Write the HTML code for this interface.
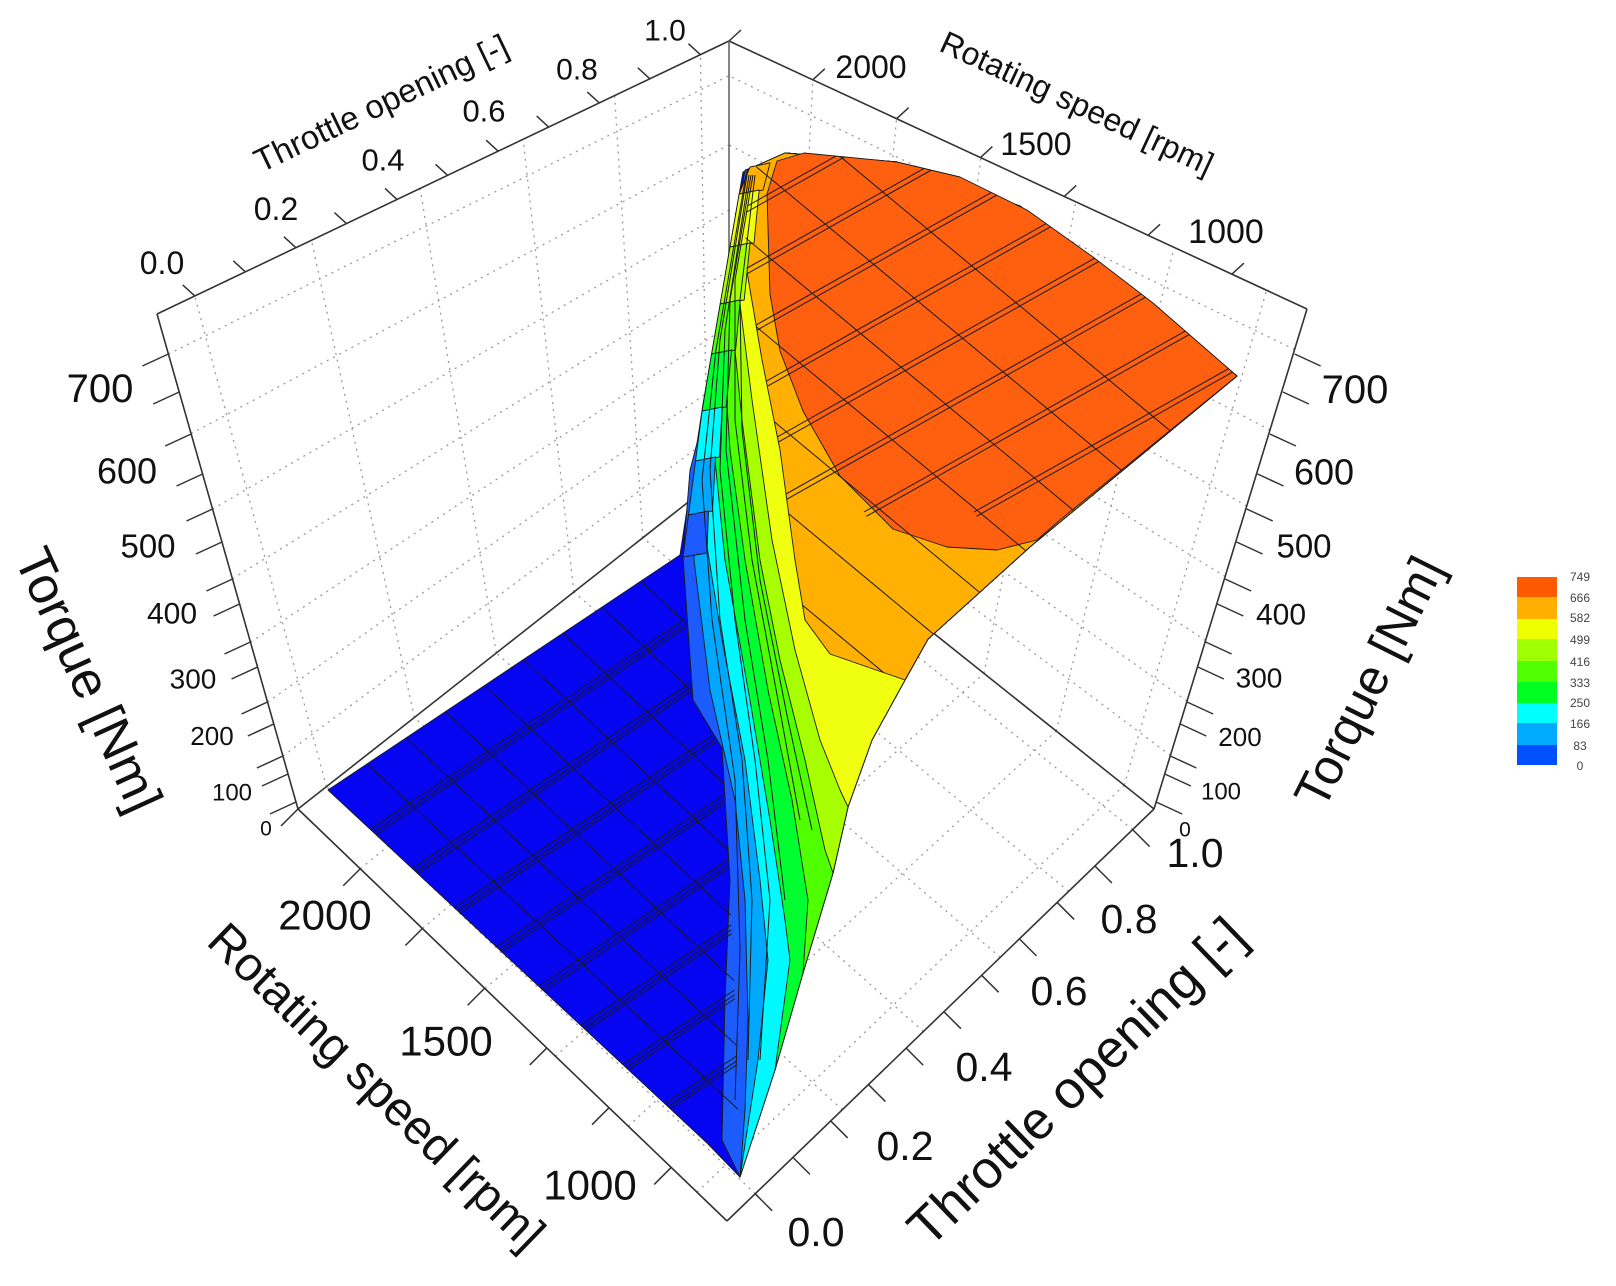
<!DOCTYPE html>
<html><head><meta charset="utf-8"><style>
html,body{margin:0;padding:0;background:#fff;width:1616px;height:1286px;overflow:hidden;}
svg{display:block;position:absolute;left:0;top:0;font-family:"Liberation Sans",sans-serif;}
</style></head><body>
<svg id="s" width="1616" height="1286" viewBox="0 0 1616 1286" xmlns="http://www.w3.org/2000/svg">
<defs>
<clipPath id="capclip">
<polygon id="capc" points=""/>
<polygon id="olc" points=""/>
</clipPath>
<clipPath id="blueclip">
<polygon points="328,790 680,555 692,700 722,748 730,900 735,1000 740,1177 707,1143"/>
</clipPath>
</defs>
<g id="grid" fill="none" stroke="#9a9a9a" stroke-width="1.3" stroke-dasharray="2 5"></g>
<g id="ticks" stroke="#333" stroke-width="1.5" fill="none"></g>
<g stroke="#333" stroke-width="1.6" fill="none">
<line x1="157" y1="314" x2="729" y2="41"/>
<line x1="729" y1="41" x2="1307" y2="309"/>
<line x1="729" y1="41" x2="729" y2="470" stroke="#666"/>
<line x1="157" y1="314" x2="298" y2="809"/>
<line x1="1307" y1="309" x2="1154" y2="809"/>
<line x1="298" y1="809" x2="727" y2="1221"/>
<line x1="727" y1="1221" x2="1154" y2="809"/>
<line x1="729" y1="470" x2="1154" y2="809"/>
<line x1="298" y1="809" x2="729" y2="470"/>
</g>
<g id="surf" stroke="#1a1a1a" stroke-width="0.9" stroke-linejoin="round"></g>
<g id="mesh" fill="none" stroke="#1a1a1a" stroke-width="1"></g>

<g fill="#111">
<text x="100" y="389" font-size="40" text-anchor="middle" dominant-baseline="central">700</text>
<text x="127" y="471" font-size="36" text-anchor="middle" dominant-baseline="central">600</text>
<text x="148" y="546" font-size="33" text-anchor="middle" dominant-baseline="central">500</text>
<text x="172" y="614" font-size="30" text-anchor="middle" dominant-baseline="central">400</text>
<text x="193" y="679" font-size="28" text-anchor="middle" dominant-baseline="central">300</text>
<text x="212" y="736" font-size="26" text-anchor="middle" dominant-baseline="central">200</text>
<text x="232" y="793" font-size="24" text-anchor="middle" dominant-baseline="central">100</text>
<text x="266" y="829" font-size="21" text-anchor="middle" dominant-baseline="central">0</text>

<text x="1355" y="390" font-size="40" text-anchor="middle" dominant-baseline="central">700</text>
<text x="1324" y="472" font-size="36" text-anchor="middle" dominant-baseline="central">600</text>
<text x="1304" y="546" font-size="33" text-anchor="middle" dominant-baseline="central">500</text>
<text x="1281" y="615" font-size="30" text-anchor="middle" dominant-baseline="central">400</text>
<text x="1259" y="678" font-size="28" text-anchor="middle" dominant-baseline="central">300</text>
<text x="1240" y="737" font-size="26" text-anchor="middle" dominant-baseline="central">200</text>
<text x="1221" y="792" font-size="24" text-anchor="middle" dominant-baseline="central">100</text>
<text x="1185" y="830" font-size="21" text-anchor="middle" dominant-baseline="central">0</text>

<text x="162" y="263" font-size="32" text-anchor="middle" dominant-baseline="central">0.0</text>
<text x="276" y="209" font-size="32" text-anchor="middle" dominant-baseline="central">0.2</text>
<text x="383" y="160" font-size="31" text-anchor="middle" dominant-baseline="central">0.4</text>
<text x="484" y="111" font-size="31" text-anchor="middle" dominant-baseline="central">0.6</text>
<text x="577" y="70" font-size="30" text-anchor="middle" dominant-baseline="central">0.8</text>
<text x="665" y="31" font-size="30" text-anchor="middle" dominant-baseline="central">1.0</text>
<text x="0" y="0" font-size="33" text-anchor="middle" dominant-baseline="central" transform="translate(381,103) rotate(-25.5)">Throttle opening [-]</text>

<text x="871" y="67" font-size="32" text-anchor="middle" dominant-baseline="central">2000</text>
<text x="1036" y="144" font-size="32" text-anchor="middle" dominant-baseline="central">1500</text>
<text x="1226" y="232" font-size="34" text-anchor="middle" dominant-baseline="central">1000</text>
<text x="0" y="0" font-size="32" text-anchor="middle" dominant-baseline="central" transform="translate(1077,103) rotate(25)">Rotating speed [rpm]</text>

<text x="325" y="915" font-size="42" text-anchor="middle" dominant-baseline="central">2000</text>
<text x="446" y="1041" font-size="42" text-anchor="middle" dominant-baseline="central">1500</text>
<text x="590" y="1185" font-size="42" text-anchor="middle" dominant-baseline="central">1000</text>
<text x="0" y="0" font-size="48" text-anchor="middle" dominant-baseline="central" transform="translate(376,1087) rotate(44)">Rotating speed [rpm]</text>

<text x="1195" y="853" font-size="41" text-anchor="middle" dominant-baseline="central">1.0</text>
<text x="1129" y="919" font-size="41" text-anchor="middle" dominant-baseline="central">0.8</text>
<text x="1059" y="991" font-size="41" text-anchor="middle" dominant-baseline="central">0.6</text>
<text x="984" y="1067" font-size="41" text-anchor="middle" dominant-baseline="central">0.4</text>
<text x="905" y="1146" font-size="41" text-anchor="middle" dominant-baseline="central">0.2</text>
<text x="816" y="1232" font-size="41" text-anchor="middle" dominant-baseline="central">0.0</text>
<text x="0" y="0" font-size="53" text-anchor="middle" dominant-baseline="central" transform="translate(1077,1082) rotate(-44)">Throttle opening [-]</text>

<text x="0" y="0" font-size="52" text-anchor="middle" dominant-baseline="central" transform="translate(88,680) rotate(65.5)">Torque [Nm]</text>
<text x="0" y="0" font-size="50" text-anchor="middle" dominant-baseline="central" transform="translate(1369,682) rotate(-63.5)">Torque [Nm]</text>
</g>

<g>
<rect x="1517" y="577" width="40" height="21" fill="#ff5a00"/>
<rect x="1517" y="597" width="40" height="22" fill="#ffb000"/>
<rect x="1517" y="619" width="40" height="20" fill="#f0ff00"/>
<rect x="1517" y="639" width="40" height="22" fill="#a0ff00"/>
<rect x="1517" y="661" width="40" height="21" fill="#50ff00"/>
<rect x="1517" y="682" width="40" height="21" fill="#00ff20"/>
<rect x="1517" y="703" width="40" height="20" fill="#00ffff"/>
<rect x="1517" y="723" width="40" height="22" fill="#00aaff"/>
<rect x="1517" y="745" width="40" height="20" fill="#0050ff"/>
</g>
<g fill="#444" font-size="12" text-anchor="middle" dominant-baseline="central">
<text x="1580" y="577">749</text><text x="1580" y="598">666</text><text x="1580" y="618">582</text>
<text x="1580" y="640">499</text><text x="1580" y="662">416</text><text x="1580" y="683">333</text>
<text x="1580" y="703">250</text><text x="1580" y="724">166</text><text x="1580" y="746">83</text>
<text x="1580" y="766">0</text>
</g>
</svg>
<script>
(function(){
var NS="http://www.w3.org/2000/svg";
function el(p,tag,a){var e=document.createElementNS(NS,tag);for(var k in a)e.setAttribute(k,a[k]);p.appendChild(e);return e;}
function bil(P00,P10,P01,P11,u,v){return [(1-u)*(1-v)*P00[0]+u*(1-v)*P10[0]+(1-u)*v*P01[0]+u*v*P11[0],(1-u)*(1-v)*P00[1]+u*(1-v)*P10[1]+(1-u)*v*P01[1]+u*v*P11[1]];}
var g=document.getElementById("grid");
function ln(p,a,b){el(p,"line",{x1:a[0],y1:a[1],x2:b[0],y2:b[1]});}
var L=[298,809],B=[729,470],TL=[157,314],T=[729,41],TR=[1307,309],Rb=[1154,809],F=[727,1221];
var thr=[0.066,0.27,0.46,0.64,0.80,0.95];
var tq=[0.107,0.216,0.337,0.465,0.606,0.758,0.919];
var sp=[0.07,0.23,0.40,0.564,0.71,0.855];
thr.forEach(function(u){ln(g,bil(L,B,TL,T,u,0),bil(L,B,TL,T,u,1));});
tq.forEach(function(v){ln(g,bil(L,B,TL,T,0,v),bil(L,B,TL,T,1,v));});
sp.forEach(function(u){ln(g,bil(Rb,B,TR,T,u,0),bil(Rb,B,TR,T,u,1));});
tq.forEach(function(v){ln(g,bil(Rb,B,TR,T,0,v),bil(Rb,B,TR,T,1,v));});
thr.forEach(function(t){ln(g,bil(F,Rb,L,B,t,0),bil(F,Rb,L,B,t,1));});
sp.forEach(function(s){ln(g,bil(F,Rb,L,B,0,s),bil(F,Rb,L,B,1,s));});
var tk=document.getElementById("ticks");
var ly=[354,392,434,474,509,542,579,604,642,667,702,724,756,774,802];
ly.forEach(function(y){var f=(y-314)/495;var x=157+f*141;ln(tk,[x,y],[x-26,y+12]);var xr=1307-f*153;ln(tk,[xr,y],[xr+26,y+12]);});
for(var i=0;i<=10;i++){var f=0.066+i*0.0884;
 var p=[157+f*572,314-f*273];ln(tk,p,[p[0]-12,p[1]-11]);
 var q=[727+f*427,1221-f*412];ln(tk,q,[q[0]+17,q[1]+17]);}
for(var i=0;i<=6;i++){var f=i*0.145;
 var p=[729+f*578,41+f*268];ln(tk,p,[p[0]+12,p[1]-11]);
 var q=[298+f*429,809+f*412];ln(tk,q,[q[0]-17,q[1]+17]);}
var S=document.getElementById("surf");
function pts(a){return a.map(function(p){return p[0]+","+p[1];}).join(" ");}
var R=[[756,166],[785,153],[897,162],[1020,206],[1237,376],[1031,546],[928,639],[905,680],[872,740],[848,807],[833,873],[803,973],[775,1070],[740,1177]];
var base=[[328,790],[680,555],[703,404],[730,247],[743,172]].concat(R).concat([[707,1143]]);
el(S,"polygon",{points:pts(base),fill:"#0505f2"});
function band(Lb,end,col){var p=Lb.slice();for(var i=end;i>=0;i--)p.push(R[i]);el(S,"polygon",{points:pts(p),fill:col});return p;}
band([[745,170],[718,330],[703,420],[690,470],[683,557],[693,700],[722,748],[730,880],[725,1000],[722,1140]],13,"#1c5cff");
band([[747,170],[722,320],[708,400],[696,470],[694,560],[710,690],[735,800],[745,900],[748,1020],[745,1110]],13,"#00a8ff");
band([[748,170],[725,300],[712,380],[705,440],[706,540],[722,640],[745,760],[760,880],[768,960],[758,1060]],13,"#00f8ff");
band([[750,170],[728,280],[716,360],[712,430],[725,560],[750,700],[770,820],[785,920],[790,960]],12,"#00ff30");
band([[752,170],[732,260],[722,330],[730,450],[745,560],[768,690],[792,800],[808,900]],11,"#50ff00");
band([[753,170],[736,240],[730,300],[742,420],[760,560],[780,660],[805,760],[825,850]],10,"#a8ff00");
band([[755,170],[741,220],[737,280],[752,400],[772,540],[795,650],[820,740],[840,790]],9,"#f0ff10");
var ol=band([[757,170],[746,215],[745,260],[762,360],[780,450],[795,560],[805,620],[830,654]],7,"#ffb000");
function E(y){var P=[[750,167],[743,172],[730,247],[703,404],[683,557]];for(var i=0;i<P.length-1;i++){if(y>=P[i][1]&&y<=P[i+1][1]){var t=(y-P[i][1])/(P[i+1][1]-P[i][1]);return P[i][0]+t*(P[i+1][0]-P[i][0]);}}return y<167?750:683;}
var segs=[[167,194,"#ffb000"],[194,247,"#f0ff10"],[247,304,"#a8ff00"],[304,354,"#50ff00"],[354,411,"#00ff30"],[411,461,"#00f8ff"],[461,515,"#00a8ff"],[515,557,"#1c5cff"]];
segs.forEach(function(s){var w0=20,w1=24;el(S,"polygon",{points:pts([[E(s[0]),s[0]],[E(s[0])+w0,s[0]-4],[E(s[1])+w1,s[1]-4],[E(s[1]),s[1]]]),fill:s[2]});});
var cap=[[767,194],[777,161],[804,153],[897,162],[960,177],[1027,210],[1093,257],[1153,303],[1237,376],[1060,520],[1037,540],[997,550],[947,547],[893,529],[840,476],[803,411],[780,351],[770,294]];
el(S,"polygon",{points:pts(cap),fill:"#ff6010"});
document.getElementById("capc").setAttribute("points",pts(cap));
document.getElementById("olc").setAttribute("points",pts(ol));
var cl=document.getElementById("mesh");
[[[749,175],[725,330],[720,470],[735,620],[755,760],[770,900],[760,1060]],
 [[751,175],[730,300],[726,450],[745,620],[768,760],[785,900]],
 [[753,175],[735,280],[735,420],[752,560],[778,700],[800,820]],
 [[747,175],[720,340],[710,470],[720,620],[742,760],[752,900],[748,1060]],
 [[755,175],[740,300],[742,430],[760,580],[788,720],[812,830]],
 [[746,175],[716,350],[702,480],[712,620],[735,780],[740,950],[735,1100]]].forEach(function(p){el(cl,"polyline",{points:pts(p)});});
var m=el(cl,"g",{"clip-path":"url(#capclip)"});
var dA=[-0.87,0.49],dB=[0.77,0.64];
for(var k=0;k<9;k++){var o=[790+k*110,120];
 [0,5].forEach(function(off){var a=[o[0]+off*0.49+dA[0]*-300,o[1]+off*0.87+dA[1]*-300];var b=[a[0]+dA[0]*1100,a[1]+dA[1]*1100];ln(m,a,b);});}
for(var k=0;k<10;k++){var o=[700,40+k*80];var a=[o[0]-dB[0]*120,o[1]-dB[1]*120];ln(m,a,[a[0]+dB[0]*750,a[1]+dB[1]*750]);}
var bm=el(cl,"g",{"clip-path":"url(#blueclip)"});
var A=[328,790],Bb=[680,555],C=[707,1143];
for(var i=1;i<9;i++){var t=i/9;var p=[A[0]+(Bb[0]-A[0])*t,A[1]+(Bb[1]-A[1])*t];ln(bm,p,[p[0]+(C[0]-A[0])*1.0,p[1]+(C[1]-A[1])*1.0]);}
for(var i=1;i<9;i++){var t=i/9;var p=[A[0]+(C[0]-A[0])*t,A[1]+(C[1]-A[1])*t];
 [0,5,9].forEach(function(off){ln(bm,[p[0],p[1]+off],[p[0]+(Bb[0]-A[0])*1.3,p[1]+off+(Bb[1]-A[1])*1.3]);});}
})();
</script>
</body></html>
